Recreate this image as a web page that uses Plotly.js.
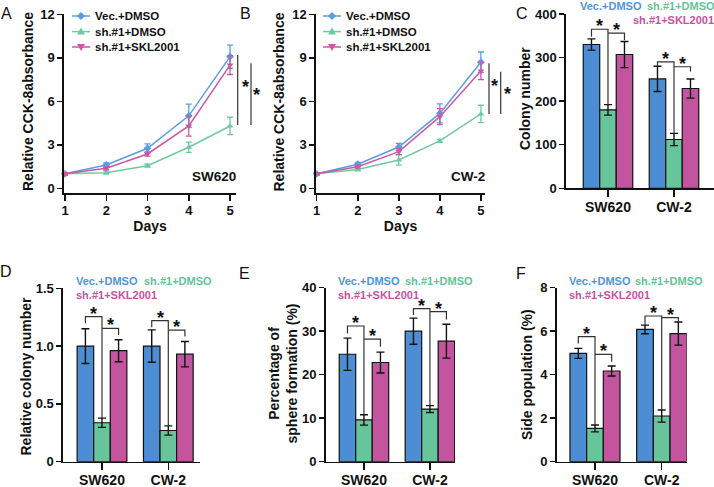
<!DOCTYPE html>
<html><head><meta charset="utf-8">
<script src="https://cdn.plot.ly/plotly-3.0.1.min.js"></script>
<style>html,body{margin:0;padding:0;background:#fff}#chart{width:714px;height:487px}</style>
</head><body><div id="chart"></div>
<script>
// ---------------- DATA ----------------
const days = [1, 2, 3, 4, 5];
const seriesNames = ['Vec.+DMSO', 'sh.#1+DMSO', 'sh.#1+SKL2001'];
const cellLines = ['SW620', 'CW-2'];

// Panel A : CCK-8, SW620
const cckSW_vec = [1.0, 1.61, 2.76, 5.0, 9.08];
const cckSW_vecErr = [0.08, 0.15, 0.3, 0.8, 0.8];
const cckSW_sh = [1.0, 1.08, 1.56, 2.83, 4.3];
const cckSW_shErr = [0.08, 0.1, 0.1, 0.35, 0.6];
const cckSW_skl = [1.0, 1.38, 2.37, 4.3, 8.5];
const cckSW_sklErr = [0.08, 0.1, 0.15, 0.7, 0.65];
// Panel B : CCK-8, CW-2
const cckCW_vec = [1.0, 1.66, 2.85, 5.17, 8.7];
const cckCW_vecErr = [0.08, 0.12, 0.25, 0.65, 0.7];
const cckCW_sh = [1.0, 1.3, 1.95, 3.27, 5.13];
const cckCW_shErr = [0.08, 0.1, 0.35, 0.1, 0.6];
const cckCW_skl = [1.0, 1.49, 2.53, 4.94, 8.09];
const cckCW_sklErr = [0.08, 0.1, 0.2, 0.55, 0.6];
// significance lines right of A / B : [top, bottom]
const sigA = [[9.19, 4.37], [8.62, 4.37]];
const sigB = [[8.62, 5.12], [8.04, 5.12]];

// Panel C : colony number
const colony_vec = [330, 251], colony_vecErr = [13, 29];
const colony_sh = [180, 112], colony_shErr = [12, 14];
const colony_skl = [307, 229], colony_sklErr = [30, 22];
// Panel D : relative colony number
const rel_vec = [1.0, 1.0], rel_vecErr = [0.15, 0.14];
const rel_sh = [0.337, 0.27], rel_shErr = [0.04, 0.04];
const rel_skl = [0.96, 0.93], rel_sklErr = [0.095, 0.11];
// Panel E : sphere formation (%)
const sphere_vec = [24.7, 30.0], sphere_vecErr = [3.7, 3.0];
const sphere_sh = [9.6, 12.1], sphere_shErr = [1.2, 0.8];
const sphere_skl = [22.8, 27.7], sphere_sklErr = [2.4, 3.9];
// Panel F : side population (%)
const side_vec = [4.98, 6.08], side_vecErr = [0.23, 0.2];
const side_sh = [1.53, 2.1], side_shErr = [0.16, 0.28];
const side_skl = [4.17, 5.89], side_sklErr = [0.23, 0.53];

// bracket heights per cell line: [bracket1, leftLegEnd, bracket2, rightLegEnd]
const brC = [[365, 348, 356, 340], [290, 279, 279, 268]];
const brD = [[1.255, 1.197, 1.154, 1.096], [1.22, 1.162, 1.139, 1.082]];
const brE = [[31.2, 29.5, 28.2, 26.4], [35.2, 33.7, 34.5, 32.7]];
const brF = [[5.75, 5.44, 4.93, 4.6], [6.70, 6.28, 6.62, 6.44]];

// axis titles
const yTitles = ['Relative CCK-8absorbance', 'Relative CCK-8absorbance', 'Colony number',
  'Relative colony number', 'Percentage of<br>sphere formation (%)', 'Side population (%)'];

// ---------------- STYLE ----------------
const W = 714, H = 487;
const fx = p => p / W, fy = p => 1 - p / H;
const FONT = 'Liberation Sans, Arial, sans-serif';
const INK = '#111111';
const BAR_COL = ['#4d8dd3', '#68c59b', '#c2559e'];
const LINE_COL = ['#5b9de3', '#6fcb9f', '#cb58a6'];
const TXT_COL = ['#4f94de', '#62c496', '#c7529f'];
const SYMS = ['diamond', 'triangle-up', 'triangle-down'];
const BARGAP = 0.25;

const traces = [];
function lineTrace(y, err, k, xa, ya) {
  return {x: days, y: y, type: 'scatter', mode: 'lines+markers', xaxis: xa, yaxis: ya,
    showlegend: false, name: seriesNames[k], cliponaxis: false,
    line: {color: LINE_COL[k], width: 1.5},
    marker: {color: LINE_COL[k], symbol: SYMS[k], size: 6},
    error_y: {type: 'data', array: err, color: LINE_COL[k], thickness: 1.3, width: 3}};
}
function barTrace(y, err, k, xa, ya) {
  return {x: [0, 1], y: y, type: 'bar', xaxis: xa, yaxis: ya, showlegend: false, name: seriesNames[k],
    marker: {color: BAR_COL[k], line: {color: INK, width: 1.2}},
    error_y: {type: 'data', array: err, color: INK, thickness: 1.4, width: 4}};
}
traces.push(lineTrace(cckSW_vec, cckSW_vecErr, 0, 'x', 'y'));
traces.push(lineTrace(cckSW_sh, cckSW_shErr, 1, 'x', 'y'));
traces.push(lineTrace(cckSW_skl, cckSW_sklErr, 2, 'x', 'y'));
traces.push(lineTrace(cckCW_vec, cckCW_vecErr, 0, 'x2', 'y2'));
traces.push(lineTrace(cckCW_sh, cckCW_shErr, 1, 'x2', 'y2'));
traces.push(lineTrace(cckCW_skl, cckCW_sklErr, 2, 'x2', 'y2'));
const barPanels = [
  {xa: 'x3', ya: 'y3', d: [[colony_vec, colony_vecErr], [colony_sh, colony_shErr], [colony_skl, colony_sklErr]], br: brC},
  {xa: 'x4', ya: 'y4', d: [[rel_vec, rel_vecErr], [rel_sh, rel_shErr], [rel_skl, rel_sklErr]], br: brD},
  {xa: 'x5', ya: 'y5', d: [[sphere_vec, sphere_vecErr], [sphere_sh, sphere_shErr], [sphere_skl, sphere_sklErr]], br: brE},
  {xa: 'x6', ya: 'y6', d: [[side_vec, side_vecErr], [side_sh, side_shErr], [side_skl, side_sklErr]], br: brF}
];
barPanels.forEach(p => p.d.forEach((s, k) => traces.push(barTrace(s[0], s[1], k, p.xa, p.ya))));

// ---------------- AXES ----------------
const tickFont = (s) => ({family: FONT, size: s, color: INK, weight: 'bold'});
const titleFont = {family: FONT, size: 14, color: INK, weight: 'bold'};
const axBase = () => ({showline: true, linecolor: INK, linewidth: 1.6, ticks: 'outside', ticklen: 5,
  tickwidth: 1.5, tickcolor: INK, showgrid: false, zeroline: false, fixedrange: true, tickfont: tickFont(13)});

const layout = {
  width: W, height: H, margin: {l: 0, r: 0, t: 0, b: 0},
  paper_bgcolor: '#ffffff', plot_bgcolor: 'rgba(0,0,0,0)',
  barmode: 'group', bargap: BARGAP, bargroupgap: 0, showlegend: false,
  font: {family: FONT, color: INK},
  shapes: [], annotations: []
};
// A
layout.xaxis = Object.assign(axBase(), {domain: [fx(64), fx(236)], anchor: 'y', range: [0.976, 5.145],
  tickvals: days, ticklen: 6, ticklabelstandoff: -2, title: {text: 'Days', font: titleFont, standoff: 1}});
layout.yaxis = Object.assign(axBase(), {domain: [fy(193.4), fy(14.3)], anchor: 'x', range: [-0.35, 12], dtick: 3});
// B
layout.xaxis2 = Object.assign(axBase(), {domain: [fx(316), fx(485)], anchor: 'y2', range: [0.983, 5.1],
  tickvals: days, ticklen: 6, ticklabelstandoff: -2, title: {text: 'Days', font: titleFont, standoff: 1}});
layout.yaxis2 = Object.assign(axBase(), {domain: [fy(193.4), fy(14.3)], anchor: 'x2', range: [-0.35, 12], dtick: 3});
// C-F
const barAx = [
  {n: 3, xd: [566, 714], xr: [-0.636, 1.606], yd: [188.3, 14], yr: [0, 400], dt: 100},
  {n: 4, xd: [63, 200], xr: [-0.588, 1.478], yd: [461.7, 288.3], yr: [0, 1.5], dt: 0.5},
  {n: 5, xd: [325.7, 455], xr: [-0.58, 1.38], yd: [461.7, 287.7], yr: [0, 40], dt: 10},
  {n: 6, xd: [556.7, 686.7], xr: [-0.574, 1.375], yd: [461.7, 287.7], yr: [0, 8], dt: 2}
];
barAx.forEach(a => {
  layout['xaxis' + a.n] = Object.assign(axBase(), {domain: [fx(a.xd[0]), fx(a.xd[1])], anchor: 'y' + a.n,
    range: a.xr, tickvals: [0, 1], ticktext: cellLines, ticklen: 7, ticklabelstandoff: -2, tickfont: tickFont(14)});
  layout['yaxis' + a.n] = Object.assign(axBase(), {domain: [fy(a.yd[0]), fy(a.yd[1])], anchor: 'x' + a.n,
    range: a.yr, dtick: a.dt});
});
layout.yaxis4.tickvals = [0, 0.5, 1.0, 1.5];
layout.yaxis4.ticktext = ['0', '0.5', '1.0', '1.5'];

// y-axis titles placed next to their tick labels
const yTitlePos = [[28, 102], [278.5, 102], [525, 99], [25.5, 377], [282.5, 374], [527, 375]];
yTitles.forEach((t, i) => layout.annotations.push({xref: 'paper', yref: 'paper', x: fx(yTitlePos[i][0]), y: fy(yTitlePos[i][1]),
  text: t, textangle: -90, showarrow: false, xanchor: 'center', yanchor: 'middle', align: 'center', font: titleFont}));

// ---------------- BRACKETS & STARS ----------------
const star = (x, y, xref, yref) => ({x: x, y: y, xref: xref, yref: yref, text: '*', showarrow: false,
  font: {family: FONT, size: 18, color: INK, weight: 'bold'}, xanchor: 'center', yanchor: 'middle', yshift: 3});
const w = (1 - BARGAP) / 3;
barPanels.forEach(p => {
  const xr = p.xa, yr = p.ya;
  for (let i = 0; i < 2; i++) {
    const b = p.br[i];
    const xb = i - w, xg = i, xm = i + w;
    const shTop = p.d[1][0][i] + p.d[1][1][i];
    const ln = {color: '#333', width: 1.2};
    layout.shapes.push({type: 'path', xref: xr, yref: yr, line: ln,
      path: `M${xb},${b[1]} L${xb},${b[0]} L${xg},${b[0]} L${xg},${shTop}`});
    layout.shapes.push({type: 'path', xref: xr, yref: yr, line: ln,
      path: `M${xg},${b[2]} L${xm},${b[2]} L${xm},${b[3]}`});
    layout.annotations.push(star((xb + xg) / 2, b[0], xr, yr));
    layout.annotations.push(star((xg + xm) / 2, b[2], xr, yr));
  }
});
// significance lines of A and B
[[sigA, 'y', [237.7, 251], [245, 256.7]], [sigB, 'y2', [489, 500.7], [494.5, 507]]].forEach(([sg, yr, lx, sx]) => {
  sg.forEach((s, j) => {
    layout.shapes.push({type: 'line', xref: 'paper', yref: yr, x0: fx(lx[j]), x1: fx(lx[j]), y0: s[0], y1: s[1],
      line: {color: '#333', width: 1.2}});
    layout.annotations.push(star(fx(sx[j]), (s[0] + s[1]) / 2 + (j === 0 ? 0.0 : -0.25), 'paper', yr));
  });
});

// ---------------- LEGENDS ----------------
// line-chart legends (A,B)
const legRows = [16, 31.6, 47];
const markerPaths = ['M0,4 L4,0 L0,-4 L-4,0 Z', 'M-4,-3 L4,-3 L0,4 Z', 'M-4,3 L4,3 L0,-4 Z'];
[[72, 93], [323, 344]].forEach(([x0, tx]) => {
  seriesNames.forEach((nm, k) => {
    const yy = fy(legRows[k]);
    layout.shapes.push({type: 'line', xref: 'paper', yref: 'paper', x0: fx(x0), x1: fx(x0 + 18), y0: yy, y1: yy,
      line: {color: LINE_COL[k], width: 1.5}});
    layout.shapes.push({type: 'path', xref: 'paper', yref: 'paper', xsizemode: 'pixel', ysizemode: 'pixel',
      xanchor: fx(x0 + 9), yanchor: yy, path: markerPaths[k], fillcolor: LINE_COL[k], line: {width: 0}});
    layout.annotations.push({xref: 'paper', yref: 'paper', x: fx(tx), y: yy, text: nm, showarrow: false,
      xanchor: 'left', yanchor: 'middle', font: {family: FONT, size: 11.5, color: INK, weight: 'bold'}});
  });
});
// bar-chart legends (C-F): [vecX, row1Y, shX, sklX, row2Y]
const barLeg = [[578, 6, 645, 631, 20], [74, 280.7, 141.7, 74, 295], [336, 280.7, 402.7, 336, 295], [566.7, 280.7, 633.3, 566.7, 295]];
barLeg.forEach(L => {
  const pos = [[L[0], L[1]], [L[2], L[1]], [L[3], L[4]]];
  seriesNames.forEach((nm, k) => layout.annotations.push({xref: 'paper', yref: 'paper', x: fx(pos[k][0]), y: fy(pos[k][1]),
    text: nm, showarrow: false, xanchor: 'left', yanchor: 'middle',
    font: {family: FONT, size: 11, color: TXT_COL[k], weight: 'bold'}}));
});
// cell line labels in A/B
[['SW620', 238], ['CW-2', 487]].forEach(([t, x]) => layout.annotations.push({xref: 'paper', yref: 'paper',
  x: fx(x), y: fy(176.7), text: t, showarrow: false, xanchor: 'right', yanchor: 'middle',
  font: {family: FONT, size: 13.5, color: INK, weight: 'bold'}}));
// panel letters
const panelLetters = [['A', 6.7, 13], ['B', 245.5, 13], ['C', 521.7, 13], ['D', 5.8, 271.7], ['E', 244, 273], ['F', 521, 273]];
panelLetters.forEach(([t, x, y]) => layout.annotations.push({xref: 'paper', yref: 'paper', x: fx(x), y: fy(y), text: t,
  showarrow: false, xanchor: 'center', yanchor: 'middle', font: {family: FONT, size: 16, color: INK}}));

Plotly.newPlot('chart', traces, layout, {displayModeBar: false, staticPlot: true});
</script></body></html>
